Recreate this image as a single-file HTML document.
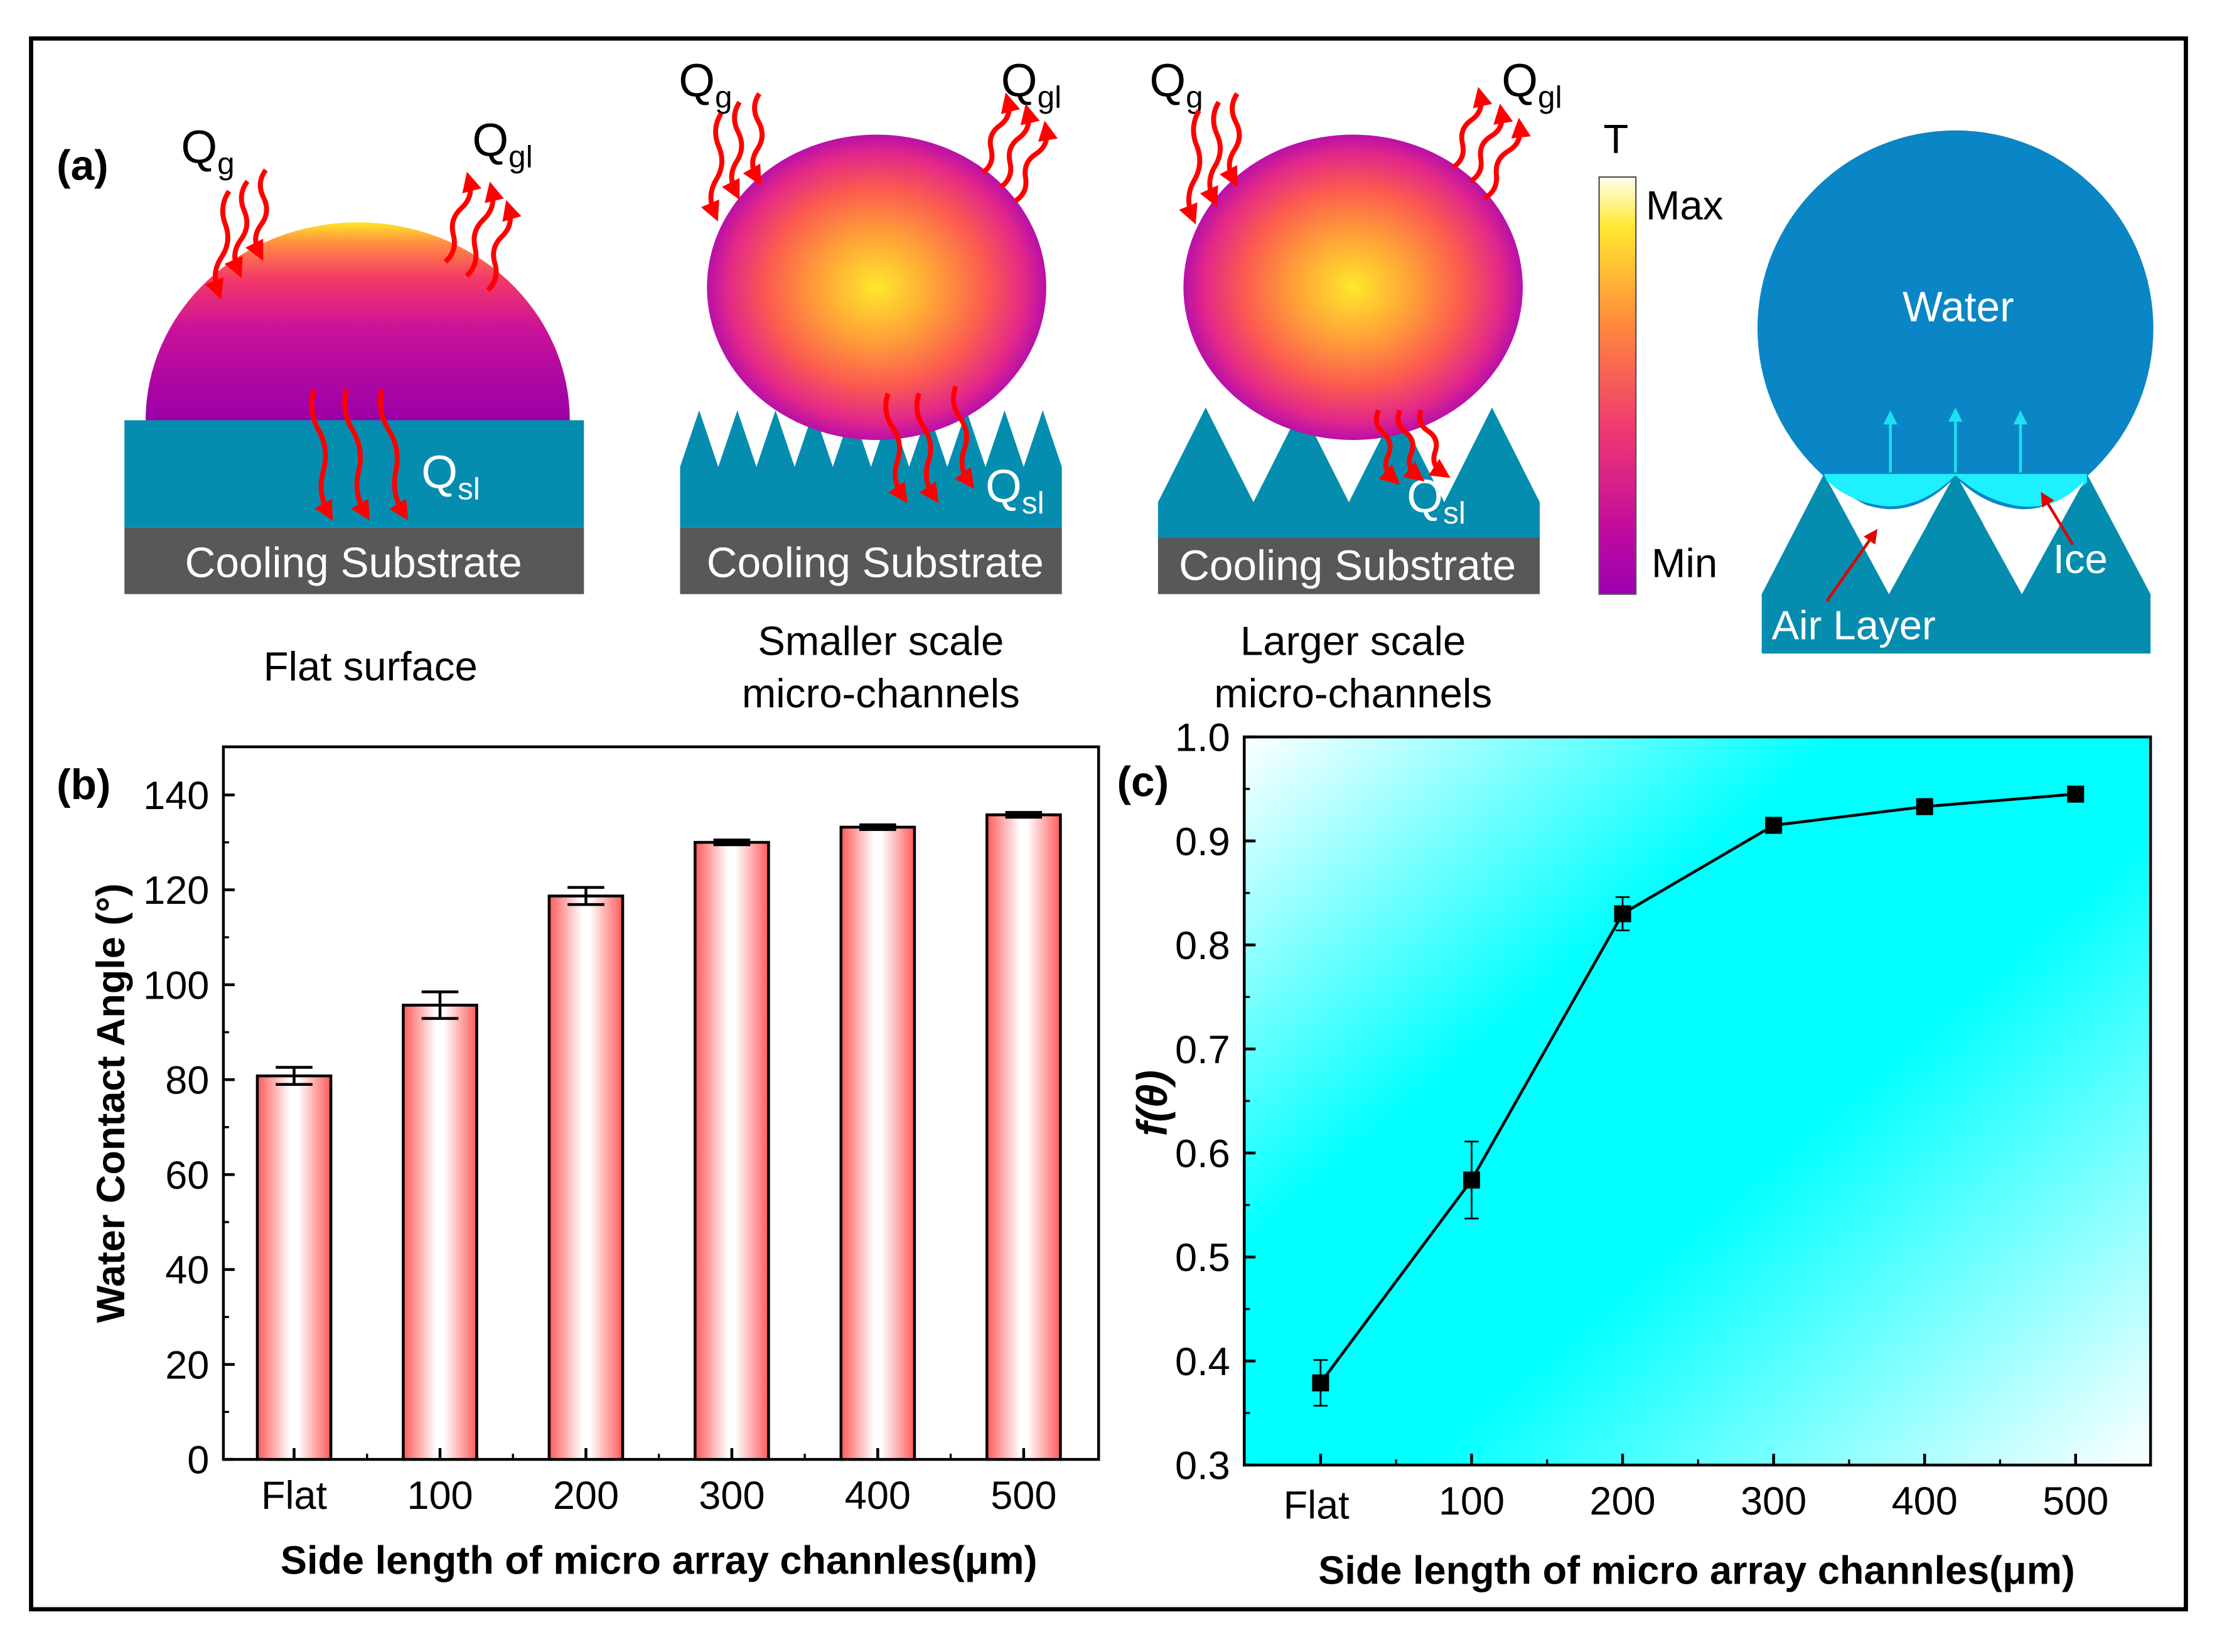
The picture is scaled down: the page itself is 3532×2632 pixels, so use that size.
<!DOCTYPE html>
<html><head><meta charset="utf-8"><style>
html,body{margin:0;padding:0;background:#fff}
svg{display:block}
text{font-family:"Liberation Sans",Arial,sans-serif}
</style></head><body>
<svg id="fig" width="3532" height="2632" viewBox="0 0 1568 1168" xmlns="http://www.w3.org/2000/svg">
<defs>
<linearGradient id="flatDrop" x1="0" y1="0" x2="0" y2="1">
<stop offset="0" stop-color="#ffe72a"/><stop offset="0.1" stop-color="#ff9040"/><stop offset="0.28" stop-color="#f53a66"/><stop offset="0.55" stop-color="#c8109a"/><stop offset="1" stop-color="#9a00a8"/></linearGradient>
<radialGradient id="sph" cx="0.5" cy="0.5" r="0.5">
<stop offset="0" stop-color="#ffe82c"/><stop offset="0.35" stop-color="#ffa038"/><stop offset="0.65" stop-color="#fb5a50"/><stop offset="0.88" stop-color="#e2278a"/><stop offset="1" stop-color="#b810a8"/></radialGradient>
<linearGradient id="cbar" x1="0" y1="0" x2="0" y2="1">
<stop offset="0" stop-color="#fffff0"/><stop offset="0.12" stop-color="#ffe830"/><stop offset="0.35" stop-color="#ff8a3a"/><stop offset="0.6" stop-color="#f03a70"/><stop offset="0.85" stop-color="#c00aa0"/><stop offset="1" stop-color="#9a00b0"/></linearGradient>
<linearGradient id="barg" x1="0" y1="0" x2="1" y2="0">
<stop offset="0" stop-color="#ff5a5a"/><stop offset="0.45" stop-color="#ffffff"/><stop offset="0.55" stop-color="#ffffff"/><stop offset="1" stop-color="#ff5a5a"/></linearGradient>
<linearGradient id="cbg" gradientUnits="userSpaceOnUse" x1="880" y1="521" x2="1405" y2="1135">
<stop offset="0" stop-color="#ffffff"/><stop offset="0.34" stop-color="#00ffff"/><stop offset="0.58" stop-color="#00ffff"/><stop offset="1" stop-color="#ffffff"/></linearGradient>
<marker id="ah" viewBox="0 0 10 10" refX="5" refY="5" markerWidth="4" markerHeight="4" orient="auto"><path d="M0,0 L10,5 L0,10 z" fill="#ff0000"/></marker>
<marker id="ahc" viewBox="0 0 10 10" refX="5" refY="5" markerWidth="5" markerHeight="5" orient="auto"><path d="M0,0 L10,5 L0,10 z" fill="#1ee0f0"/></marker>
<marker id="ahr" viewBox="0 0 10 10" refX="5" refY="5" markerWidth="5" markerHeight="5" orient="auto"><path d="M0,0 L10,5 L0,10 z" fill="#e00000"/></marker>
</defs>
<rect x="22" y="27" width="1524" height="1111" fill="#fff" stroke="#000" stroke-width="3"/>

<g>
<text x="40" y="127" font-size="30" font-weight="bold">(a)</text>
<path d="M103,297 A150,140 0 0 1 403,297 Z" fill="url(#flatDrop)"/>
<rect x="88" y="297" width="325" height="76" fill="#058db0"/>
<rect x="88" y="373" width="325" height="47" fill="#585858"/>
<text x="250" y="408" font-size="30" fill="#fff" text-anchor="middle">Cooling Substrate</text>
<text x="262" y="481" font-size="29" text-anchor="middle">Flat surface</text>
<g>
<path id="smallSpikes" fill="#058db0" d=""/>
<rect x="481" y="373" width="270" height="47" fill="#585858"/>
</g>
<ellipse cx="620" cy="203" rx="120" ry="108" fill="url(#sph)"/>
<text x="619" y="408" font-size="30" fill="#fff" text-anchor="middle">Cooling Substrate</text>
<text x="623" y="463" font-size="29" text-anchor="middle">Smaller scale</text>
<text x="623" y="500" font-size="29" text-anchor="middle">micro-channels</text>
<g>
<path id="largeSpikes" fill="#058db0" d=""/>
<rect x="819" y="380" width="270" height="40" fill="#585858"/>
</g>
<ellipse cx="957" cy="203" rx="120" ry="108" fill="url(#sph)"/>
<text x="953" y="410" font-size="30" fill="#fff" text-anchor="middle">Cooling  Substrate</text>
<text x="957" y="463" font-size="29" text-anchor="middle">Larger scale</text>
<text x="957" y="500" font-size="29" text-anchor="middle">micro-channels</text>
<g font-size="33">
<text x="128" y="115">Q<tspan font-size="22" dy="8">g</tspan></text>
<text x="334" y="110">Q<tspan font-size="22" dy="8">gl</tspan></text>
<text x="298" y="345" fill="#fff">Q<tspan font-size="22" dy="8">sl</tspan></text>
<text x="480" y="68">Q<tspan font-size="22" dy="8">g</tspan></text>
<text x="708" y="68">Q<tspan font-size="22" dy="8">gl</tspan></text>
<text x="697" y="355" fill="#fff">Q<tspan font-size="22" dy="8">sl</tspan></text>
<text x="813" y="68">Q<tspan font-size="22" dy="8">g</tspan></text>
<text x="1062" y="68">Q<tspan font-size="22" dy="8">gl</tspan></text>
<text x="995" y="362" fill="#fff">Q<tspan font-size="22" dy="8">sl</tspan></text>
</g>
<g id="arrows" fill="none" stroke="#ff0000" stroke-width="3.5"></g>
<rect x="1131" y="125" width="26" height="295" fill="url(#cbar)" stroke="#555" stroke-width="1"/>
<text x="1134" y="108" font-size="29">T</text>
<text x="1164" y="155" font-size="29">Max</text>
<text x="1168" y="408" font-size="29">Min</text>
<g>
<circle cx="1383" cy="232" r="140" fill="#0a86c6"/>
<path d="M1246,462 L1246,420 L1290,335 L1336,420 L1383,335 L1430,420 L1476,335 L1521,420 L1521,462 Z" fill="#058db0"/>
<path d="M1290,335 L1476,335 L1476,341 Q1455,360 1430,358 Q1405,355 1383,336 Q1360,358 1336,358 Q1310,356 1292,340 Z" fill="#1ff0ff"/>
<path d="M1293,340 L1336,420 L1380,340 Q1360,360 1336,360 Q1310,358 1293,340 Z" fill="#fff"/>
<path d="M1386,340 L1430,420 L1474,340 Q1455,360 1430,360 Q1405,358 1386,340 Z" fill="#fff"/>
<text x="1385" y="227" font-size="30" fill="#fff" text-anchor="middle">Water</text>
<g stroke="#1ee0f0" stroke-width="2"><line x1="1337" y1="334" x2="1337" y2="295" marker-end="url(#ahc)"/><line x1="1383" y1="334" x2="1383" y2="293" marker-end="url(#ahc)"/><line x1="1429" y1="334" x2="1429" y2="295" marker-end="url(#ahc)"/></g>
<g stroke="#e00000" stroke-width="2"><line x1="1292" y1="425" x2="1325" y2="378" marker-end="url(#ahr)"/><line x1="1466" y1="385" x2="1446" y2="352" marker-end="url(#ahr)"/></g>
<text x="1253" y="452" font-size="29" fill="#fff">Air Layer</text>
<text x="1452" y="405" font-size="29" fill="#fff">Ice</text>
</g>
</g>

<g id="chartB">
<text x="40" y="565" font-size="30" font-weight="bold">(b)</text>
<rect x="158" y="528" width="619" height="504" fill="#fff" stroke="#000" stroke-width="2"/>
<text transform="translate(88,780) rotate(-90)" font-size="28" font-weight="bold" text-anchor="middle">Water Contact Angle (°)</text>
<text x="466" y="1113" font-size="28" font-weight="bold" text-anchor="middle">Side length of micro array channles(μm)</text>
</g>

<g id="chartC">
<rect x="880" y="521" width="641" height="515" fill="url(#cbg)" stroke="#000" stroke-width="2"/>
<text x="790" y="563" font-size="30" font-weight="bold">(c)</text>
<text transform="translate(825,780) rotate(-90)" font-size="30" font-weight="bold" font-style="italic" font-family="Liberation Serif" text-anchor="middle">f(θ)</text>
<text x="1200" y="1120" font-size="28" font-weight="bold" text-anchor="middle">Side length of micro array channles(μm)</text>
</g>
</svg>
<script>
const categories = ["Flat","100","200","300","400","500"];
const angleValues = [80.8, 95.7, 118.7, 130.0, 133.2, 135.8];
const angleErrors = [1.8, 2.8, 1.8, 0.5, 0.5, 0.5];
const angleTicks = [0,20,40,60,80,100,120,140];
const fValues = [0.379, 0.574, 0.830, 0.915, 0.933, 0.945];
const fErrors = [0.022, 0.037, 0.016, 0.004, 0.004, 0.004];
const fTicks = [0.3,0.4,0.5,0.6,0.7,0.8,0.9,1.0];

const NS = "http://www.w3.org/2000/svg";
function mk(tag, attrs, parent){const e=document.createElementNS(NS,tag);for(const k in attrs)e.setAttribute(k,attrs[k]);parent.appendChild(e);return e;}

(function(){
  let d="M481,373 L481,330";
  const n=10, w=270/n;
  for(let i=0;i<n;i++){const x0=481+i*w;d+=` L${x0+w*0.5},290 L${x0+w},330`;}
  d+=" L751,373 Z";
  document.getElementById('smallSpikes').setAttribute('d',d);
  let d2="M819,380 L819,355";
  const n2=4,w2=270/n2;
  for(let i=0;i<n2;i++){const x0=819+i*w2;d2+=` L${x0+w2*0.5},288 L${x0+w2},355`;}
  d2+=" L1089,380 Z";
  document.getElementById('largeSpikes').setAttribute('d',d2);
})();

(function(){
  const g=document.getElementById('arrows');
  function wavy(x1,y1,x2,y2,amp){
    const dx=x2-x1,dy=y2-y1,L=Math.hypot(dx,dy),nx=-dy/L,ny=dx/L;
    let d=`M${x1},${y1}`;const seg=3;
    for(let i=1;i<=seg;i++){
      const t0=(i-1)/seg,t1=i/seg,tm=(t0+t1)/2,s=(i%2?1:-1)*amp;
      d+=` Q${x1+dx*tm+nx*s},${y1+dy*tm+ny*s} ${x1+dx*t1},${y1+dy*t1}`;
    }
    const p=mk('path',{d:d,'marker-end':'url(#ah)'},g);
    
    
  }
  const sets=[
    [[162,135,154,205],[175,128,168,190],[188,120,183,178]],
    [[315,185,332,128],[330,195,348,135],[345,205,360,148]],
    [[510,80,505,150],[523,72,520,135],[537,66,535,125]],
    [[695,122,713,72],[708,132,727,80],[718,142,740,92]],
    [[848,78,843,152],[862,72,858,140],[875,66,872,126]],
    [[1028,118,1047,68],[1040,128,1062,80],[1050,140,1075,90]],
    [[222,275,232,362],[245,275,258,362],[270,275,285,362]],
    [[628,278,638,350],[650,278,660,350],[676,273,685,340]],
    [[975,290,985,338],[990,290,1002,336],[1005,290,1020,334]]
  ];
  sets.forEach(s=>s.forEach(a=>wavy(a[0],a[1],a[2],a[3],6)));
})();

(function(){
  const g=document.getElementById('chartB');
  const y0=1032, yPer=470/140;
  const yS=v=>y0-v*yPer;
  const xS=i=>208+103.2*i;
  const bw=52;
  angleTicks.forEach(t=>{
    mk('line',{x1:158,x2:166,y1:yS(t),y2:yS(t),stroke:'#000','stroke-width':2},g);
    const tx=mk('text',{x:148,y:yS(t)+10,'font-size':28,'text-anchor':'end'},g);tx.textContent=t;
    
    
    if(t<140) mk('line',{x1:158,x2:162,y1:yS(t+10),y2:yS(t+10),stroke:'#000','stroke-width':1.5},g);
  });
  categories.forEach((c,i)=>{
    const x=xS(i);
    const r=mk('rect',{x:x-bw/2,y:yS(angleValues[i]),width:bw,height:y0-yS(angleValues[i]),fill:'url(#barg)',stroke:'#000','stroke-width':2},g);
    
    
    const hi=yS(angleValues[i]+angleErrors[i]),lo=yS(angleValues[i]-angleErrors[i]);
    const eb=mk('path',{d:`M${x},${hi}V${lo}M${x-13},${hi}H${x+13}M${x-13},${lo}H${x+13}`,stroke:'#000','stroke-width':2,fill:'none'},g);
    
    
    mk('line',{x1:x,x2:x,y1:y0,y2:y0-8,stroke:'#000','stroke-width':2},g);
    if(i<5) mk('line',{x1:x+51.6,x2:x+51.6,y1:y0,y2:y0-4,stroke:'#000','stroke-width':1.5},g);
    const tx=mk('text',{x:x,y:1067,'font-size':28,'text-anchor':'middle'},g);tx.textContent=c;
    
    
  });
})();

(function(){
  const g=document.getElementById('chartC');
  const y0=1036, yPer=515/0.7;
  const yS=v=>y0-(v-0.3)*yPer;
  const xS=i=>934+106.8*i;
  fTicks.forEach(t=>{
    mk('line',{x1:880,x2:888,y1:yS(t),y2:yS(t),stroke:'#000','stroke-width':2},g);
    const tx=mk('text',{x:870,y:yS(t)+10,'font-size':28,'text-anchor':'end'},g);tx.textContent=t.toFixed(1);
    
    
    if(t<1.0) mk('line',{x1:880,x2:884,y1:yS(t+0.05),y2:yS(t+0.05),stroke:'#000','stroke-width':1.5},g);
  });
  categories.forEach((c,i)=>{
    const x=xS(i);
    mk('line',{x1:x,x2:x,y1:y0,y2:y0-8,stroke:'#000','stroke-width':2},g);
    if(i<5) mk('line',{x1:x+53.4,x2:x+53.4,y1:y0,y2:y0-4,stroke:'#000','stroke-width':1.5},g);
    const tx=mk('text',{x:i===0?x-3:x,y:i===0?1074:1071,'font-size':28,'text-anchor':'middle'},g);tx.textContent=c;
    
    
  });
  const pts=fValues.map((v,i)=>`${xS(i)},${yS(v)}`).join(' ');
  const pl=mk('polyline',{points:pts,fill:'none',stroke:'#000','stroke-width':2},g);
  
  
  fValues.forEach((v,i)=>{
    const x=xS(i),hi=yS(v+fErrors[i]),lo=yS(v-fErrors[i]);
    const eb=mk('path',{d:`M${x},${hi}V${lo}M${x-5},${hi}H${x+5}M${x-5},${lo}H${x+5}`,stroke:'#000','stroke-width':1.2,fill:'none'},g);
    
    
    const m=mk('rect',{x:x-6,y:yS(v)-6,width:12,height:12,fill:'#000'},g);
    
    
  });
})();
</script>
</body></html>
